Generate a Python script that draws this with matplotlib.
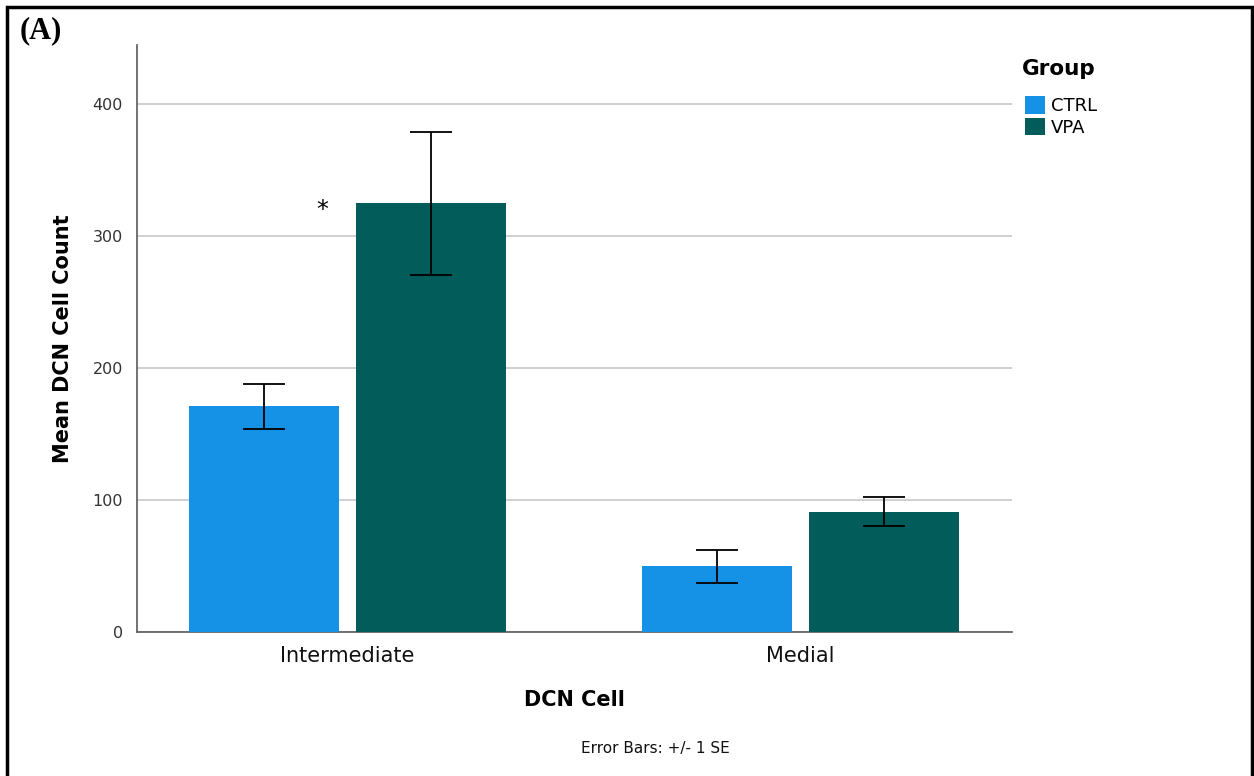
import matplotlib
matplotlib.use("Agg")
import matplotlib.pyplot as plt
import numpy as np
from matplotlib.patches import Rectangle, Patch

categories = ["Intermediate", "Medial"]
groups = ["CTRL", "VPA"]
ctrl_mean = [171, 50]
ctrl_se = [17, 12.5]
vpa_mean = [325, 91]
vpa_se = [54, 11]
yticks = [0, 100, 200, 300, 400]
colors = {"CTRL": "#1591E6", "VPA": "#015C5A"}

fig = plt.figure(figsize=(12.54, 7.76), dpi=100)
ax = fig.add_axes([137/1254, 1-632/776, (1012-137)/1254, (632-45)/776])

x = np.arange(len(categories))
w = 0.331
off = 0.184
ax.bar(x - off, ctrl_mean, width=w, color=colors["CTRL"], zorder=3, label="CTRL")
ax.bar(x + off, vpa_mean, width=w, color=colors["VPA"], zorder=3, label="VPA")
ax.errorbar(x - off, ctrl_mean, yerr=ctrl_se, fmt="none", ecolor="black", elinewidth=1.3, capsize=15, capthick=1.3, zorder=4)
ax.errorbar(x + off, vpa_mean, yerr=vpa_se, fmt="none", ecolor="black", elinewidth=1.3, capsize=15, capthick=1.3, zorder=4)

ax.set_xlim(-0.4647, 1.4669)
ax.set_ylim(0, 445)
ax.set_yticks(yticks)
ax.set_yticklabels([str(v) for v in yticks], fontsize=11.5, color="#333333")
ax.yaxis.grid(True, color="#c8c8c8", linewidth=1.2, zorder=0)
ax.set_axisbelow(True)
ax.tick_params(axis="y", length=0, pad=10)
ax.tick_params(axis="x", length=0, pad=10)
ax.set_xticks(x)
ax.set_xticklabels(categories, fontsize=15, family="DejaVu Sans", color="#111111")
for s in ["top", "right"]:
    ax.spines[s].set_visible(False)
for s in ["left", "bottom"]:
    ax.spines[s].set_color("#666666")
    ax.spines[s].set_linewidth(1.3)

ax.set_ylabel("Mean DCN Cell Count", fontsize=15, fontweight="bold", labelpad=14)
ax.set_xlabel("DCN Cell", fontsize=15, fontweight="bold", labelpad=17)

ax.text(-0.056, 320, "*", fontsize=17, ha="center", va="center", color="black")

# legend
fig.text(1022/1254, 1-69/776, "Group", fontsize=15.5, fontweight="bold", va="center", ha="left")
handles = [Patch(facecolor=colors[g], label=g) for g in groups]
fig.legend(handles=handles, loc="upper left", bbox_to_anchor=(1018/1254, 1-89/776),
           frameon=False, fontsize=13, handlelength=1.1, handleheight=1.1,
           handletextpad=0.3, labelspacing=0.15, borderaxespad=0)

fig.text(655/1254, 1-748/776, "Error Bars: +/- 1 SE", fontsize=11, ha="center", va="center", color="#111111")
fig.text(20/1254, 1-31/776, "(A)", fontsize=22, fontweight="bold", family="Liberation Serif", ha="left", va="center")

fig.patches.append(Rectangle((7/1254, -0.01), (1252-7)/1254, 1-7/776 + 0.01, transform=fig.transFigure,
                             fill=False, edgecolor="black", linewidth=2.5))

fig.savefig("out.png", dpi=100)
